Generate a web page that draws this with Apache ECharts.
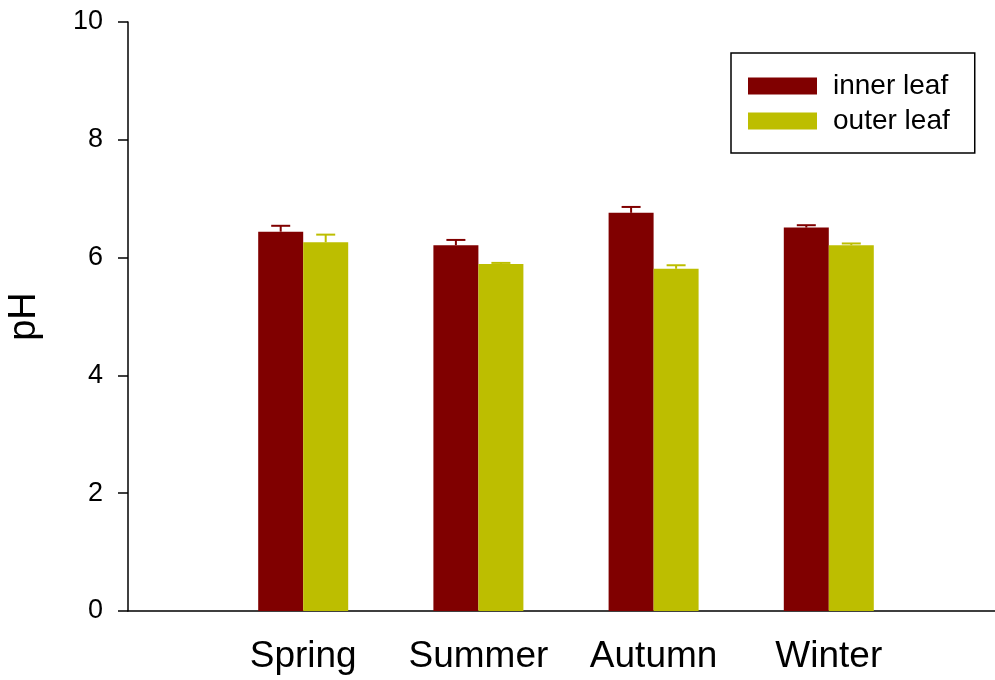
<!DOCTYPE html>
<html>
<head>
<meta charset="utf-8">
<style>
  html, body { margin: 0; padding: 0; background: #fff; }
  #chart { width: 995px; height: 680px; }
</style>
<script src="https://cdn.jsdelivr.net/npm/echarts@6/dist/echarts.min.js"></script>
</head>
<body>
<div id="chart"></div>
<script>
// Leaf pH by season, mean with standard deviation
const categories = ['Spring', 'Summer', 'Autumn', 'Winter'];
const innerLeaf = [6.44, 6.21, 6.76, 6.51];
const innerLeafSd = [0.10, 0.09, 0.10, 0.04];
const outerLeaf = [6.26, 5.89, 5.81, 6.21];
const outerLeafSd = [0.13, 0.02, 0.06, 0.03];
const yTicks = [0, 2, 4, 6, 8, 10];

const innerColor = '#800000';
const outerColor = '#bdbe00';
const barWidth = 45;
const font = 'Liberation Sans, Arial, sans-serif';

// empty slots at both ends keep the seasons off the axis edges
const axisCats = [''].concat(categories, ['']);
const pad = arr => ['-'].concat(arr, ['-']);

function errorData(vals, sds, side) {
  return vals.map((v, i) => [i + 1, v, sds[i], side]);
}

function renderError(params, api) {
  const idx = api.value(0);
  const val = api.value(1);
  const sd = api.value(2);
  const side = api.value(3);
  const base = api.coord([idx, val]);
  const top = api.coord([idx, val + sd]);
  const x = base[0] + side * barWidth / 2;
  const color = api.visual('color');
  const style = { stroke: color, lineWidth: 2 };
  return {
    type: 'group',
    children: [
      { type: 'line', shape: { x1: x, y1: base[1], x2: x, y2: top[1] }, style: style },
      { type: 'line', shape: { x1: x - 9.5, y1: top[1], x2: x + 9.5, y2: top[1] }, style: style }
    ]
  };
}

const chart = echarts.init(document.getElementById('chart'), null, { renderer: 'canvas' });
chart.setOption({
  animation: false,
  backgroundColor: '#fff',
  textStyle: { fontFamily: font },
  grid: { left: 128, top: 22, bottom: 69, right: -9, containLabel: false, outerBoundsMode: 'none' },
  legend: {
    orient: 'vertical',
    left: 731,
    top: 53,
    data: ['inner leaf', 'outer leaf'],
    icon: 'rect',
    itemWidth: 69,
    itemHeight: 17,
    itemGap: 7,
    padding: [19, 25, 18, 17],
    borderColor: '#000',
    borderWidth: 1.5,
    borderRadius: 0,
    backgroundColor: '#fff',
    textStyle: { fontSize: 28, color: '#000', fontFamily: font, padding: [0, 0, 0, 11] }
  },
  xAxis: {
    type: 'category',
    data: axisCats,
    boundaryGap: false,
    axisLine: { lineStyle: { color: '#000', width: 1.5 } },
    axisTick: { show: false },
    axisLabel: { color: '#000', fontSize: 37, margin: 27, fontFamily: font, interval: 0 },
    splitLine: { show: false }
  },
  yAxis: {
    type: 'value',
    min: yTicks[0],
    max: yTicks[yTicks.length - 1],
    interval: 2,
    name: 'pH',
    nameLocation: 'middle',
    nameGap: 84,
    nameTextStyle: { fontSize: 38, color: '#000', fontFamily: font },
    axisLine: { show: true, lineStyle: { color: '#000', width: 1.5 } },
    axisTick: { show: true, inside: false, length: 10, lineStyle: { color: '#000', width: 1.5 } },
    axisLabel: { color: '#000', fontSize: 27, margin: 25, fontFamily: font },
    splitLine: { show: false }
  },
  series: [
    {
      name: 'inner leaf',
      type: 'bar',
      data: pad(innerLeaf),
      barWidth: barWidth,
      barGap: '0%',
      itemStyle: { color: innerColor },
      z: 2
    },
    {
      name: 'outer leaf',
      type: 'bar',
      data: pad(outerLeaf),
      barWidth: barWidth,
      barGap: '0%',
      itemStyle: { color: outerColor },
      z: 2
    },
    {
      name: 'inner leaf sd',
      type: 'custom',
      renderItem: renderError,
      data: errorData(innerLeaf, innerLeafSd, -1),
      itemStyle: { color: innerColor },
      z: 3
    },
    {
      name: 'outer leaf sd',
      type: 'custom',
      renderItem: renderError,
      data: errorData(outerLeaf, outerLeafSd, 1),
      itemStyle: { color: outerColor },
      z: 3
    }
  ]
});
</script>
</body>
</html>
